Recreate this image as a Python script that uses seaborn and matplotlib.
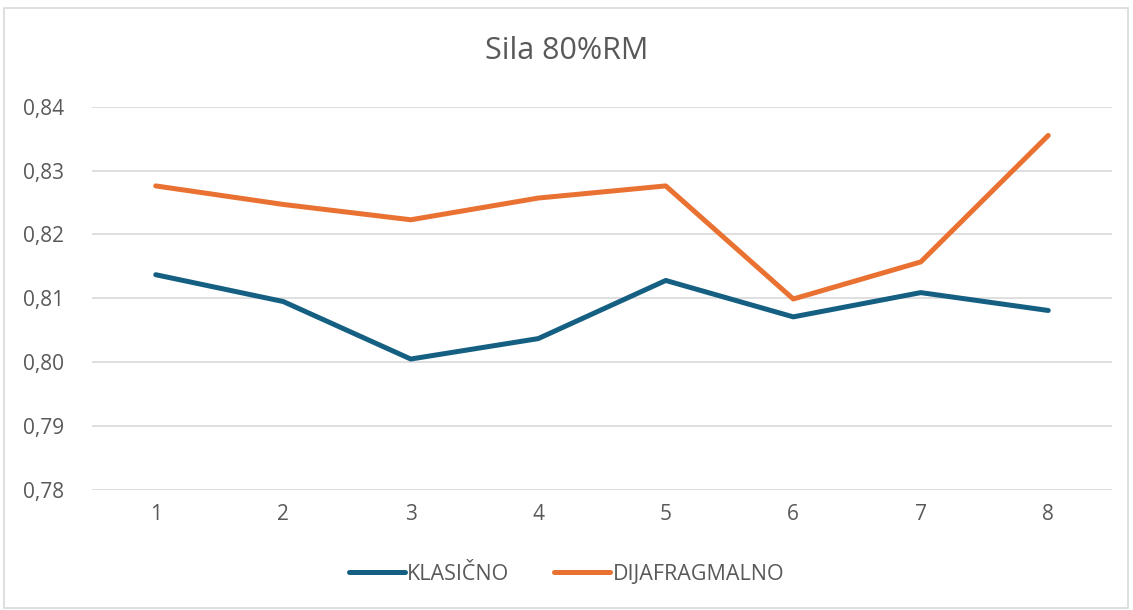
import numpy as np
import pandas as pd
import matplotlib
matplotlib.use("Agg")
import matplotlib.pyplot as plt
from matplotlib.ticker import FuncFormatter, FixedLocator
from matplotlib.patches import Rectangle
from matplotlib.lines import Line2D
import seaborn as sns

categories = [1, 2, 3, 4, 5, 6, 7, 8]
klasicno = [0.8137, 0.8095, 0.8005, 0.8037, 0.8128, 0.8071, 0.8109, 0.8081]
dijafragmalno = [0.8276, 0.8247, 0.8223, 0.8257, 0.8276, 0.8099, 0.8157, 0.8355]
series_names = ["KLASIČNO", "DIJAFRAGMALNO"]
colors = ["#156082", "#E97132"]
title = "Sila 80%RM"
y_ticks = [0.78, 0.79, 0.80, 0.81, 0.82, 0.83, 0.84]

df = pd.DataFrame({
    "x": categories * 2,
    "value": klasicno + dijafragmalno,
    "series": [series_names[0]] * len(categories) + [series_names[1]] * len(categories),
})

sns.set_theme(style="white")
plt.rcParams["font.family"] = ["Open Sans", "DejaVu Sans"]

fig = plt.figure(figsize=(11.33, 6.10), dpi=100)
ax = fig.add_axes([92 / 1133, 1 - 490 / 610, 1020 / 1133, (490 - 106.7) / 610])

sns.lineplot(data=df, x="x", y="value", hue="series", palette=colors,
             linewidth=3.6, ax=ax, legend=False, solid_capstyle="round")

ax.set_xlim(0.5, 8.5)
ax.set_ylim(0.78, 0.84)
ax.yaxis.set_major_locator(FixedLocator(y_ticks))
ax.xaxis.set_major_locator(FixedLocator(categories))
ax.yaxis.set_major_formatter(FuncFormatter(lambda v, p: f"{v:.2f}".replace(".", ",")))
ax.set_xticklabels([str(c) for c in categories])
ax.grid(axis="y", color="#D9D9D9", linewidth=1.2)
ax.set_axisbelow(True)
for s in ax.spines.values():
    s.set_visible(False)
ax.tick_params(axis="both", length=0, labelsize=15, colors="#595959")
ax.tick_params(axis="y", pad=20)
ax.tick_params(axis="x", pad=10)
ax.set_xlabel("")
ax.set_ylabel("")

fig.text(0.5, 1 - 51 / 610, title, ha="center", va="center", fontsize=22, color="#595959")

handles = [Line2D([0], [0], color=c, linewidth=3.6, solid_capstyle="round") for c in colors]
fig.legend(handles, series_names, loc="center", bbox_to_anchor=(0.5, 1 - 574 / 610),
           ncol=2, frameon=False, fontsize=15.5, labelcolor="#595959",
           handlelength=2.6, handletextpad=0.1, columnspacing=2.1)

fig.patches.append(Rectangle((4 / 1133, 2 / 610), 1124 / 1133, 600 / 610,
                             transform=fig.transFigure, fill=False,
                             edgecolor="#D9D9D9", linewidth=1.2))

fig.savefig("out.png", dpi=100, facecolor="white")
